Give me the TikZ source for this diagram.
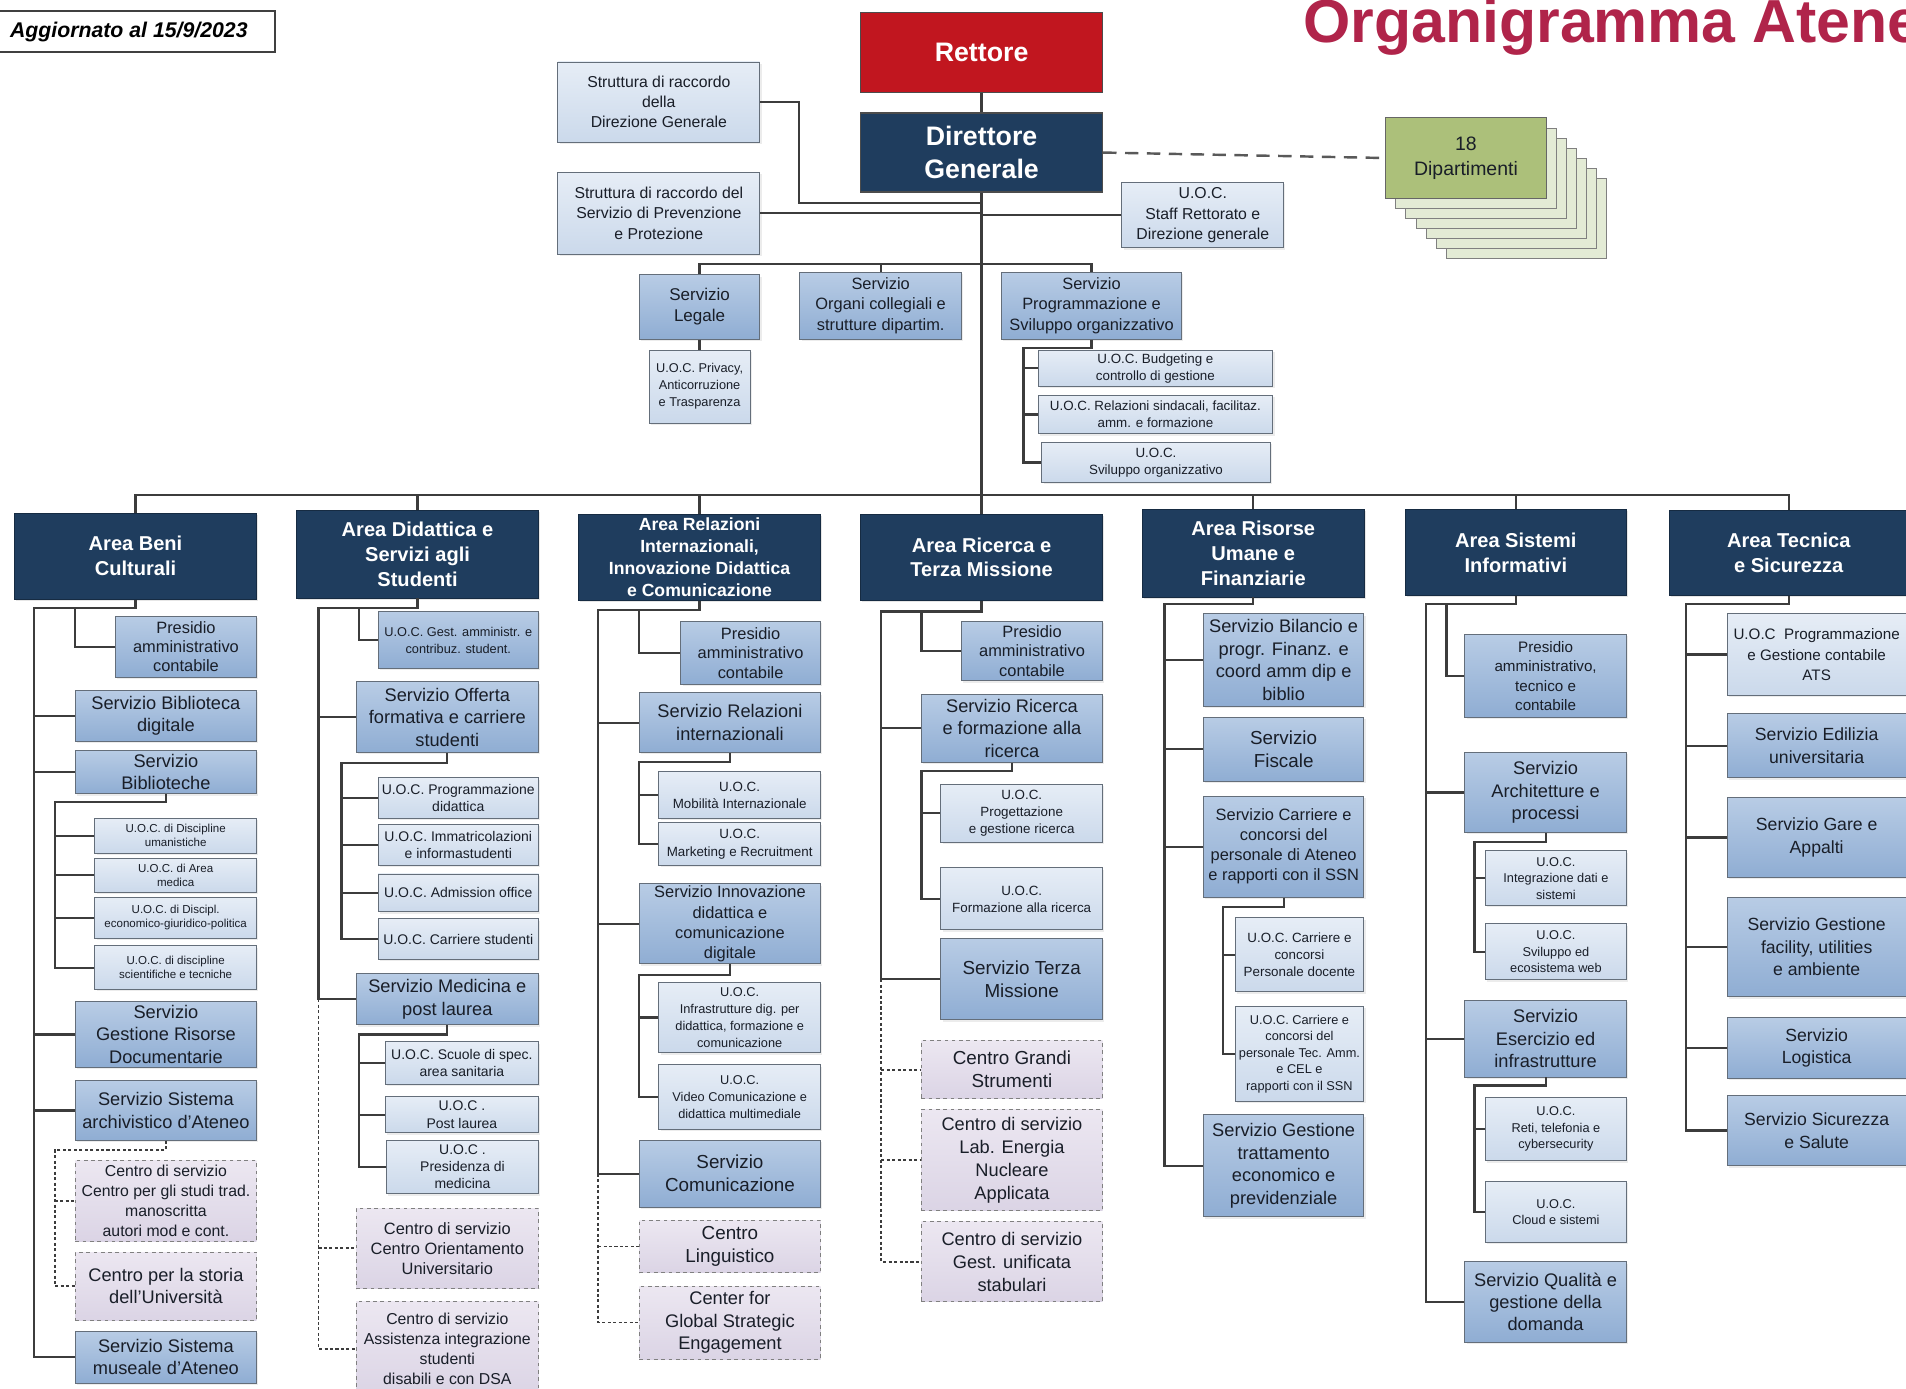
\documentclass[tikz,border=0pt]{standalone}
\usepackage{fontspec}
\setmainfont{Liberation Sans}
\usepackage{tikz}
\usetikzlibrary{shadows,calc}
\usepackage{xcolor}
\definecolor{navy}{RGB}{31,61,94}
\definecolor{rettred}{RGB}{193,22,31}
\definecolor{titlered}{RGB}{176,36,74}
\definecolor{servtop}{RGB}{184,204,229}
\definecolor{servbot}{RGB}{143,173,211}
\definecolor{uoctop}{RGB}{230,237,246}
\definecolor{uocbot}{RGB}{203,217,235}
\definecolor{centtop}{RGB}{236,231,241}
\definecolor{centbot}{RGB}{219,212,229}
\definecolor{dipgreen}{RGB}{172,192,122}
\definecolor{dipbg}{RGB}{227,235,213}
\definecolor{boxline}{RGB}{100,110,122}
\definecolor{linegray}{RGB}{60,60,60}
\definecolor{txtdark}{RGB}{25,30,40}
\newcommand{\fsz}[2]{\fontsize{#1}{#2}\selectfont}
\tikzstyle{head} = [rectangle, draw=black!70, line width=1pt, text=white, font=\bfseries\fsz{22}{27}, align=center, inner sep=1pt]
\tikzstyle{area} = [rectangle, draw=navy!70!black, fill=navy, text=white, font=\bfseries\fsz{16.5}{20.5}, align=center, inner sep=1pt, drop shadow={opacity=0.2, shadow xshift=1.5pt, shadow yshift=-1.5pt}]
\tikzstyle{serv} = [rectangle, draw=boxline, line width=0.8pt, top color=servtop, bottom color=servbot, text=txtdark, font=\fsz{15}{18.5}, align=center, inner sep=1pt, drop shadow={opacity=0.15, shadow xshift=1.5pt, shadow yshift=-1.5pt}]
\tikzstyle{uoc} = [rectangle, draw=boxline, line width=0.8pt, top color=uoctop, bottom color=uocbot, text=txtdark, font=\fsz{11}{14}, align=center, inner sep=1pt, drop shadow={opacity=0.15, shadow xshift=1.5pt, shadow yshift=-1.5pt}]
\tikzstyle{centro} = [rectangle, draw=gray, dashed, line width=0.8pt, top color=centtop, bottom color=centbot, text=txtdark, font=\fsz{15}{18.5}, align=center, inner sep=1pt]
\tikzstyle{conn} = [line width=1.8pt, draw=linegray]
\tikzstyle{dconn} = [line width=1.5pt, draw=linegray, dash pattern=on 2.5pt off 2pt]

\begin{document}
\begin{tikzpicture}[x=1pt, y=-1pt]
    \useasboundingbox (0,0) rectangle (1568,1142);

    % Header
    \node[rectangle, draw=black!75, line width=1.5pt, fill=white, font=\bfseries\itshape\fsz{17.5}{20}, minimum width=240, minimum height=34] (upd) at (106,26) {Aggiornato al 15/9/2023};
    \node[font=\bfseries\fsz{50}{50}, text=titlered, anchor=base west, inner sep=0] (title) at (1072,35) {Organigramma Ateneo};

    % Rettore and Direttore
    \node[head, fill=rettred, minimum width=199, minimum height=66] (rett) at (807.5,43) {Rettore};
    \node[head, fill=navy, minimum width=199, minimum height=65] (dg) at (807.5,125.5) {Direttore\\Generale};

    % Staff
    \node[uoc, font=\fsz{13}{16.5}, minimum width=166, minimum height=66] (strut1) at (542,84) {Struttura di raccordo\\della\\Direzione Generale};
    \node[uoc, font=\fsz{13}{16.5}, minimum width=166, minimum height=67] (strut2) at (542,175.5) {Struttura di raccordo del\\Servizio di Prevenzione\\e Protezione};
    \node[uoc, font=\fsz{13}{16.5}, minimum width=133, minimum height=54] (staff) at (989.5,177) {U.O.C.\\Staff Rettorato e\\Direzione generale};

    % 18 Dipartimenti
    \foreach \k in {6,5,...,1}
        \node[rectangle, draw=gray, line width=0.8pt, fill=dipbg, minimum width=132, minimum height=66] (dipb\k) at ({1206+8.3*\k},{130+8.3*\k}) {};
    \node[rectangle, draw=black!60, line width=0.8pt, fill=dipgreen, text=txtdark, font=\fsz{16}{21}, align=center, minimum width=132, minimum height=66] (dip) at (1206,130) {18\\Dipartimenti};

    % Servizi del Direttore
    \node[serv, font=\fsz{14}{17}, minimum width=99, minimum height=53] (legale) at (575.5,252.5) {Servizio\\Legale};
    \node[uoc, font=\fsz{10.5}{14}, minimum width=83, minimum height=60] (privacy) at (575.5,318) {U.O.C. Privacy,\\Anticorruzione\\e Trasparenza};
    \node[serv, font=\fsz{13.5}{16.5}, minimum width=133, minimum height=55] (organi) at (724.5,251.5) {Servizio\\Organi collegiali e\\strutture dipartim.};
    \node[serv, font=\fsz{13.5}{16.5}, minimum width=148, minimum height=55] (progr) at (898,251.5) {Servizio\\Programmazione e\\Sviluppo organizzativo};
    \node[uoc, minimum width=193, minimum height=30] (budget) at (950.5,303) {U.O.C. Budgeting e\\controllo di gestione};
    \node[uoc, minimum width=193, minimum height=32] (sindac) at (950.5,341) {U.O.C. Relazioni sindacali, facilitaz.\\amm. e formazione};
    \node[uoc, minimum width=188, minimum height=33] (svilorg) at (951,380.5) {U.O.C.\\Sviluppo organizzativo};

    % Aree
    \node[area, minimum width=199, minimum height=71] (beni) at (111.5,457.5) {Area Beni\\Culturali};
    \node[area, minimum width=199, minimum height=72] (didat) at (343.5,456) {Area Didattica e\\Servizi agli\\Studenti};
    \node[area, font=\bfseries\fsz{14.5}{18}, minimum width=199, minimum height=71] (relaz) at (575.5,458.5) {Area Relazioni\\Internazionali,\\Innovazione Didattica\\e Comunicazione};
    \node[area, minimum width=199, minimum height=71] (ricer) at (807.5,458.5) {Area Ricerca e\\Terza Missione};
    \node[area, minimum width=182, minimum height=72] (risor) at (1031,455) {Area Risorse\\Umane e\\Finanziarie};
    \node[area, minimum width=182, minimum height=71] (sist) at (1247,454.5) {Area Sistemi\\Informativi};
    \node[area, minimum width=197, minimum height=70] (tecn) at (1471.5,455) {Area Tecnica\\e Sicurezza};

    % Area Beni Culturali
    \node[serv, font=\fsz{13.5}{16}, minimum width=116, minimum height=50] (presbc) at (153,532) {Presidio\\amministrativo\\contabile};
    \node[serv, minimum width=149, minimum height=42] (bibdig) at (136.5,589) {Servizio Biblioteca\\digitale};
    \node[serv, minimum width=149, minimum height=36] (biblio) at (136.5,635) {Servizio\\Biblioteche};
    \node[uoc, font=\fsz{9.5}{11.5}, minimum width=133, minimum height=29] (uman) at (144.5,687.5) {U.O.C. di Discipline\\umanistiche};
    \node[uoc, font=\fsz{9.5}{11.5}, minimum width=133, minimum height=28] (medarea) at (144.5,720) {U.O.C. di Area\\medica};
    \node[uoc, font=\fsz{9.5}{11.5}, minimum width=133, minimum height=34] (econ) at (144.5,755) {U.O.C. di Discipl.\\economico-giuridico-politica};
    \node[uoc, font=\fsz{9.5}{11.5}, minimum width=133, minimum height=36] (scien) at (144.5,796) {U.O.C. di discipline\\scientifiche e tecniche};
    \node[serv, minimum width=149, minimum height=54] (gestris) at (136.5,851) {Servizio\\Gestione Risorse\\Documentarie};
    \node[serv, minimum width=149, minimum height=49] (archiv) at (136.5,913.5) {Servizio Sistema\\archivistico d’Ateneo};
    \node[centro, font=\fsz{13}{16.3}, minimum width=149, minimum height=66] (cstudi) at (136.5,988) {Centro di servizio\\Centro per gli studi trad.\\manoscritta\\autori mod e cont.};
    \node[centro, minimum width=149, minimum height=56] (cstoria) at (136.5,1058) {Centro per la storia\\dell’Università};
    \node[serv, minimum width=149, minimum height=43] (museal) at (136.5,1116.5) {Servizio Sistema\\museale d’Ateneo};

    % Area Didattica e Servizi agli Studenti
    \node[serv, font=\fsz{10.5}{14}, minimum width=132, minimum height=47] (gestamm) at (377,526.5) {U.O.C. Gest. amministr. e\\contribuz. student.};
    \node[serv, minimum width=150, minimum height=58] (offerta) at (368,590) {Servizio Offerta\\formativa e carriere\\studenti};
    \node[uoc, font=\fsz{11.5}{14}, minimum width=132, minimum height=33] (progdid) at (377,656.5) {U.O.C. Programmazione\\didattica};
    \node[uoc, font=\fsz{11.5}{14}, minimum width=132, minimum height=34] (immatr) at (377,695) {U.O.C. Immatricolazioni\\e informastudenti};
    \node[uoc, font=\fsz{11.5}{14}, minimum width=132, minimum height=31] (admiss) at (377,734.5) {U.O.C. Admission office};
    \node[uoc, font=\fsz{11.5}{14}, minimum width=132, minimum height=33] (carrstud) at (377,772.5) {U.O.C. Carriere studenti};
    \node[serv, minimum width=150, minimum height=42] (medic) at (368,822) {Servizio Medicina e\\post laurea};
    \node[uoc, font=\fsz{11.5}{14}, minimum width=126, minimum height=35] (scuole) at (380,874.5) {U.O.C. Scuole di spec.\\area sanitaria};
    \node[uoc, font=\fsz{11.5}{14}, minimum width=126, minimum height=30] (postl) at (380,917) {U.O.C .\\Post laurea};
    \node[uoc, font=\fsz{11.5}{14}, minimum width=125, minimum height=44] (presmed) at (380.5,960) {U.O.C .\\Presidenza di\\medicina};
    \node[centro, font=\fsz{13.5}{16.5}, minimum width=150, minimum height=66] (orient) at (368,1027) {Centro di servizio\\Centro Orientamento\\Universitario};
    \node[centro, font=\fsz{13}{16.5}, minimum width=150, minimum height=77] (assist) at (368,1109.5) {Centro di servizio\\Assistenza integrazione\\studenti\\disabili e con DSA};

    % Area Relazioni Internazionali
    \node[serv, font=\fsz{13.5}{16}, minimum width=115, minimum height=52] (presri) at (617.5,537) {Presidio\\amministrativo\\contabile};
    \node[serv, minimum width=149, minimum height=49] (servri) at (600.5,594.5) {Servizio Relazioni\\internazionali};
    \node[uoc, minimum width=133, minimum height=38] (mobil) at (608.5,654) {U.O.C.\\Mobilità Internazionale};
    \node[uoc, minimum width=133, minimum height=35] (market) at (608.5,694.5) {U.O.C.\\Marketing e Recruitment};
    \node[serv, font=\fsz{13.5}{16.5}, minimum width=149, minimum height=66] (innov) at (600.5,760) {Servizio Innovazione\\didattica e\\comunicazione\\digitale};
    \node[uoc, font=\fsz{10.5}{14}, minimum width=133, minimum height=58] (infra) at (608.5,837) {U.O.C.\\Infrastrutture dig. per\\didattica, formazione e\\comunicazione};
    \node[uoc, font=\fsz{10.5}{14}, minimum width=133, minimum height=53] (video) at (608.5,902.5) {U.O.C.\\Video Comunicazione e\\didattica multimediale};
    \node[serv, font=\fsz{15.5}{19}, minimum width=149, minimum height=55] (comun) at (600.5,965.5) {Servizio\\Comunicazione};
    \node[centro, font=\fsz{15.5}{19}, minimum width=149, minimum height=43] (lingu) at (600.5,1025.5) {Centro\\Linguistico};
    \node[centro, minimum width=149, minimum height=60] (global) at (600.5,1088) {Center for\\Global Strategic\\Engagement};

    % Area Ricerca e Terza Missione
    \node[serv, font=\fsz{13.5}{16}, minimum width=116, minimum height=49] (presrt) at (849,535.5) {Presidio\\amministrativo\\contabile};
    \node[serv, minimum width=149, minimum height=56] (servric) at (832.5,599) {Servizio Ricerca\\e formazione alla\\ricerca};
    \node[uoc, minimum width=133, minimum height=48] (proget) at (840.5,669) {U.O.C.\\Progettazione\\e gestione ricerca};
    \node[uoc, minimum width=133, minimum height=51] (formric) at (840.5,739.5) {U.O.C.\\Formazione alla ricerca};
    \node[serv, font=\fsz{15.5}{19}, minimum width=133, minimum height=67] (terza) at (840.5,805.5) {Servizio Terza\\Missione};
    \node[centro, font=\fsz{15.5}{19}, minimum width=149, minimum height=48] (grandi) at (832.5,880) {Centro Grandi\\Strumenti};
    \node[centro, font=\fsz{15}{18.7}, minimum width=149, minimum height=83] (energia) at (832.5,954.5) {Centro di servizio\\Lab. Energia\\Nucleare\\Applicata};
    \node[centro, font=\fsz{15}{18.7}, minimum width=149, minimum height=66] (stabul) at (832.5,1038) {Centro di servizio\\Gest. unificata\\stabulari};

    % Area Risorse Umane e Finanziarie
    \node[serv, minimum width=132, minimum height=76] (bilancio) at (1056,543) {Servizio Bilancio e\\progr. Finanz. e\\coord amm dip e\\biblio};
    \node[serv, font=\fsz{15.5}{19}, minimum width=132, minimum height=53] (fiscale) at (1056,616.5) {Servizio\\Fiscale};
    \node[serv, font=\fsz{13.5}{16.5}, minimum width=132, minimum height=83] (carriere) at (1056,696.5) {Servizio Carriere e\\concorsi del\\personale di Ateneo\\e rapporti con il SSN};
    \node[uoc, minimum width=106, minimum height=61] (docente) at (1069,785.5) {U.O.C. Carriere e\\concorsi\\Personale docente};
    \node[uoc, font=\fsz{10.5}{13.5}, minimum width=106, minimum height=78] (tecamm) at (1069,867) {U.O.C. Carriere e\\concorsi del\\personale Tec. Amm.\\e CEL e\\rapporti con il SSN};
    \node[serv, minimum width=132, minimum height=84] (tratt) at (1056,959) {Servizio Gestione\\trattamento\\economico e\\previdenziale};

    % Area Sistemi Informativi
    \node[serv, font=\fsz{12.5}{16}, minimum width=133, minimum height=68] (pressi) at (1271.5,556) {Presidio\\amministrativo,\\tecnico e\\contabile};
    \node[serv, minimum width=133, minimum height=66] (archit) at (1271.5,652) {Servizio\\Architetture e\\processi};
    \node[uoc, font=\fsz{10.5}{13.5}, minimum width=116, minimum height=45] (integ) at (1280,722.5) {U.O.C.\\Integrazione dati e\\sistemi};
    \node[uoc, font=\fsz{10.5}{13.5}, minimum width=116, minimum height=46] (ecoweb) at (1280,783) {U.O.C.\\Sviluppo ed\\ecosistema web};
    \node[serv, minimum width=133, minimum height=63] (eserc) at (1271.5,854.5) {Servizio\\Esercizio ed\\infrastrutture};
    \node[uoc, font=\fsz{10.5}{13.5}, minimum width=116, minimum height=52] (reti) at (1280,929) {U.O.C.\\Reti, telefonia e\\cybersecurity};
    \node[uoc, font=\fsz{10.5}{13.5}, minimum width=116, minimum height=50] (cloud) at (1280,997) {U.O.C.\\Cloud e sistemi};
    \node[serv, minimum width=133, minimum height=66] (qualita) at (1271.5,1071) {Servizio Qualità e\\gestione della\\domanda};

    % Area Tecnica e Sicurezza
    \node[uoc, font=\fsz{12.5}{16.5}, minimum width=147, minimum height=67] (ats) at (1494.5,538.5) {U.O.C\ \ Programmazione\\e Gestione contabile\\ATS};
    \node[serv, font=\fsz{14.5}{18.5}, minimum width=147, minimum height=53] (edil) at (1494.5,613.5) {Servizio Edilizia\\universitaria};
    \node[serv, font=\fsz{14.5}{18.5}, minimum width=147, minimum height=66] (gare) at (1494.5,689) {Servizio Gare e\\Appalti};
    \node[serv, font=\fsz{14.5}{18.5}, minimum width=147, minimum height=82] (facil) at (1494.5,779) {Servizio Gestione\\facility, utilities\\e ambiente};
    \node[serv, font=\fsz{14.5}{18.5}, minimum width=147, minimum height=50] (logist) at (1494.5,862) {Servizio\\Logistica};
    \node[serv, font=\fsz{14.5}{18.5}, minimum width=147, minimum height=58] (sicur) at (1494.5,930) {Servizio Sicurezza\\e Salute};

    % Top connectors
    \coordinate (bus) at (807.5,407);
    \coordinate (bus2) at (807.5,217);
    \coordinate (kink) at (657,167);
    \draw[conn] (rett.south) -- (dg.north);
    \draw[conn] (dg.south) -- (bus);
    \draw[conn] (strut1.east) -| (kink) -- (kink -| dg.south);
    \draw[conn] (strut2.east) -- (strut2.east -| dg.south);
    \draw[conn] (staff.west) -- (staff.west -| dg.south);
    \draw[line width=2pt, draw=black!65, dash pattern=on 11pt off 7pt] (dg.east) -- (dip.west);
    \draw[conn] (legale.north) |- (bus2) -| (progr.north);
    \draw[conn] (organi.north) -- (organi.north |- bus2);
    \draw[conn] (legale.south) -- (privacy.north);
    \coordinate (sbp) at (842,286);
    \draw[conn] (progr.south) |- (sbp) -- (sbp |- svilorg.west) -- (svilorg.west);
    \foreach \n in {budget,sindac}
        \draw[conn] (sbp |- \n.west) -- (\n.west);
    \draw[conn] (beni.north) |- (bus) -| (tecn.north);
    \foreach \n in {didat,relaz,ricer,risor,sist}
        \draw[conn] (\n.north) -- (\n.north |- bus);

    % Beni Culturali connectors
    \coordinate (sp1) at (28,500);
    \coordinate (bc1) at (62,500);
    \coordinate (sb1) at (45,660);
    \coordinate (db1) at (45,946);
    \draw[conn] (beni.south) |- (sp1) -- (sp1 |- museal.west) -- (museal.west);
    \draw[conn] (bc1) |- (presbc.west);
    \foreach \n in {bibdig,biblio,gestris,archiv}
        \draw[conn] (sp1 |- \n.west) -- (\n.west);
    \draw[conn] (biblio.south) |- (sb1) -- (sb1 |- scien.west) -- (scien.west);
    \foreach \n in {uman,medarea,econ}
        \draw[conn] (sb1 |- \n.west) -- (\n.west);
    \draw[dconn] (archiv.south) |- (db1) -- (db1 |- cstoria.west) -- (cstoria.west);
    \draw[dconn] (db1 |- cstudi.west) -- (cstudi.west);

    % Didattica connectors
    \coordinate (sp2) at (262,500);
    \coordinate (ds1) at (295,500);
    \coordinate (sb2) at (281,628);
    \coordinate (sb3) at (295,851);
    \draw[conn] (didat.south) |- (sp2) -- (sp2 |- medic.west) -- (medic.west);
    \draw[conn] (ds1) |- (gestamm.west);
    \draw[conn] (sp2 |- offerta.west) -- (offerta.west);
    \draw[conn] (offerta.south) |- (sb2) -- (sb2 |- carrstud.west) -- (carrstud.west);
    \foreach \n in {progdid,immatr,admiss}
        \draw[conn] (sb2 |- \n.west) -- (\n.west);
    \draw[conn] (medic.south) |- (sb3) -- (sb3 |- presmed.west) -- (presmed.west);
    \foreach \n in {scuole,postl}
        \draw[conn] (sb3 |- \n.west) -- (\n.west);
    \draw[dconn] (sp2 |- medic.west) -- (sp2 |- assist.west) -- (assist.west);
    \draw[dconn] (sp2 |- orient.west) -- (orient.west);

    % Relazioni Internazionali connectors
    \coordinate (sp3) at (492,502);
    \coordinate (ri1) at (526,502);
    \coordinate (sb4) at (526,627);
    \coordinate (sb5) at (526,802);
    \draw[conn] (relaz.south) |- (sp3) -- (sp3 |- comun.west) -- (comun.west);
    \draw[conn] (ri1) |- (presri.west);
    \foreach \n in {servri,innov}
        \draw[conn] (sp3 |- \n.west) -- (\n.west);
    \draw[conn] (servri.south) |- (sb4) -- (sb4 |- market.west) -- (market.west);
    \draw[conn] (sb4 |- mobil.west) -- (mobil.west);
    \draw[conn] (innov.south) |- (sb5) -- (sb5 |- video.west) -- (video.west);
    \draw[conn] (sb5 |- infra.west) -- (infra.west);
    \draw[dconn] (sp3 |- comun.west) -- (sp3 |- global.west) -- (global.west);
    \draw[dconn] (sp3 |- lingu.west) -- (lingu.west);

    % Ricerca connectors
    \coordinate (sp4) at (725,503);
    \coordinate (rt1) at (758,503);
    \coordinate (sb6) at (758,634);
    \draw[conn] (ricer.south) |- (sp4) -- (sp4 |- terza.west) -- (terza.west);
    \draw[conn] (rt1) |- (presrt.west);
    \draw[conn] (sp4 |- servric.west) -- (servric.west);
    \draw[conn] (servric.south) |- (sb6) -- (sb6 |- formric.west) -- (formric.west);
    \draw[conn] (sb6 |- proget.west) -- (proget.west);
    \draw[dconn] (sp4 |- terza.west) -- (sp4 |- stabul.west) -- (stabul.west);
    \foreach \n in {grandi,energia}
        \draw[dconn] (sp4 |- \n.west) -- (\n.west);

    % Risorse connectors
    \coordinate (sp5) at (958,497);
    \coordinate (sb7) at (1006,746);
    \draw[conn] (risor.south) |- (sp5) -- (sp5 |- tratt.west) -- (tratt.west);
    \foreach \n in {bilancio,fiscale,carriere}
        \draw[conn] (sp5 |- \n.west) -- (\n.west);
    \draw[conn] (carriere.south) |- (sb7) -- (sb7 |- tecamm.west) -- (tecamm.west);
    \draw[conn] (sb7 |- docente.west) -- (docente.west);

    % Sistemi Informativi connectors
    \coordinate (sp6) at (1173,497);
    \coordinate (si1) at (1190,497);
    \coordinate (sb8) at (1213,693);
    \coordinate (sb9) at (1213,893);
    \draw[conn] (sist.south) |- (sp6) -- (sp6 |- qualita.west) -- (qualita.west);
    \draw[conn] (si1) |- (pressi.west);
    \foreach \n in {archit,eserc}
        \draw[conn] (sp6 |- \n.west) -- (\n.west);
    \draw[conn] (archit.south) |- (sb8) -- (sb8 |- ecoweb.west) -- (ecoweb.west);
    \draw[conn] (sb8 |- integ.west) -- (integ.west);
    \draw[conn] (eserc.south) |- (sb9) -- (sb9 |- cloud.west) -- (cloud.west);
    \draw[conn] (sb9 |- reti.west) -- (reti.west);

    % Tecnica connectors
    \coordinate (sp7) at (1387,497);
    \draw[conn] (tecn.south) |- (sp7) -- (sp7 |- sicur.west) -- (sicur.west);
    \foreach \n in {ats,edil,gare,facil,logist}
        \draw[conn] (sp7 |- \n.west) -- (\n.west);
\end{tikzpicture}
\end{document}
